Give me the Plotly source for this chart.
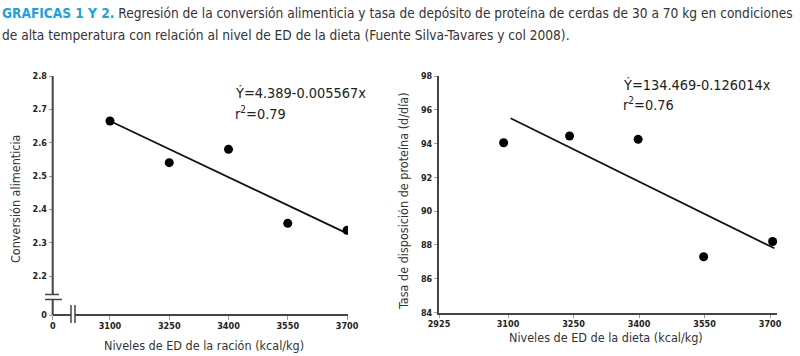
import plotly.graph_objects as go

W, H = 800, 356

# ---------------- data ----------------
ed_left = [3100, 3250, 3400, 3550, 3700]
conv_alim = [2.665, 2.54, 2.58, 2.358, 2.337]
fit_left_x = [3100, 3700]
fit_left_y = [2.665, 2.328]

ed_right = [3090, 3241, 3398, 3548, 3706]
tasa_prot = [94.05, 94.45, 94.25, 87.3, 88.2]
fit_right_x = [3106, 3710]
fit_right_y = [95.5, 87.8]

left_xticks = [3100, 3250, 3400, 3550, 3700]
left_yticks = [2.2, 2.3, 2.4, 2.5, 2.6, 2.7, 2.8]
right_xticks = [3100, 3250, 3400, 3550, 3700]
right_yticks = [84, 86, 88, 90, 92, 94, 96, 98]

eq_left = ["Ý=4.389-0.005567x", "r<sup>2</sup>=0.79"]
eq_right = ["Ý=134.469-0.126014x", "r<sup>2</sup>=0.76"]

NARROW = "DejaVu Sans Condensed, sans-serif"
AX = "#444444"


def px(x):
    return x / W


def py(y):
    return 1 - y / H


# axis ranges (break positions on left chart)
L_XR = [2955, 3702.5]
L_YR = [2.083, 2.8]
R_XR = [2942, 3716]
R_YR = [84, 98]

fig = go.Figure()

fig.add_trace(go.Scatter(x=fit_left_x, y=fit_left_y, mode="lines",
                         line=dict(color="#111111", width=1.8),
                         xaxis="x", yaxis="y", showlegend=False))
fig.add_trace(go.Scatter(x=ed_left, y=conv_alim, mode="markers",
                         marker=dict(color="black", size=9),
                         xaxis="x", yaxis="y", showlegend=False))
fig.add_trace(go.Scatter(x=fit_right_x, y=fit_right_y, mode="lines",
                         line=dict(color="#111111", width=1.8),
                         xaxis="x2", yaxis="y2", showlegend=False))
fig.add_trace(go.Scatter(x=ed_right, y=tasa_prot, mode="markers",
                         marker=dict(color="black", size=9),
                         xaxis="x2", yaxis="y2", showlegend=False))

tickfont = dict(family=NARROW, size=9, color="#222", weight="bold")
common = dict(ticks="outside", tickcolor="#999", tickwidth=1,
              showgrid=False, zeroline=False, automargin=False,
              tickfont=tickfont)

fig.update_layout(
    width=W, height=H,
    margin=dict(l=0, r=0, t=0, b=0),
    paper_bgcolor="white", plot_bgcolor="white",
    xaxis=dict(domain=[px(52.7), px(348)], range=L_XR,
               tickvals=[L_XR[0]] + left_xticks,
               ticktext=["0"] + [str(v) for v in left_xticks],
               ticklen=4, showline=False, anchor="y",
               ticklabelstandoff=-2, **common),
    yaxis=dict(domain=[py(315), py(76)], range=L_YR,
               tickvals=[L_YR[0]] + left_yticks,
               ticktext=["0"] + [f"{v:.1f}" for v in left_yticks],
               ticklen=3, showline=False, anchor="x", **common),
    xaxis2=dict(domain=[px(439), px(777)], range=R_XR,
                tickvals=[R_XR[0]] + right_xticks,
                ticktext=["2925"] + [str(v) for v in right_xticks],
                ticklen=3, showline=True, linecolor=AX, linewidth=2,
                anchor="y2", ticklabelstandoff=-1, **common),
    yaxis2=dict(domain=[py(312.5), py(76)], range=R_YR,
                tickvals=right_yticks,
                ticktext=[str(v) for v in right_yticks],
                ticklen=3, showline=True, linecolor=AX, linewidth=2,
                anchor="x2", **common),
)

# left chart axis lines with breaks
shapes = []


def seg(x0, y0, x1, y1, w=2, c=AX):
    shapes.append(dict(type="line", xref="paper", yref="paper",
                       x0=px(x0), y0=py(y0), x1=px(x1), y1=py(y1),
                       line=dict(color=c, width=w)))


seg(52.7, 76, 52.7, 294.5)
seg(52.7, 299.5, 52.7, 315)
seg(52.7, 315, 71, 315)
seg(75, 315, 348, 315)
# break marks
seg(45, 294.5, 59, 294.5, w=1.5)
seg(45, 299.5, 62, 299.5, w=1.5)
seg(71, 305, 71, 323, w=1.5)
seg(75, 305, 75, 323, w=1.5)

fig.update_layout(shapes=shapes)

ann = []


def note(text, x, y, font, xanchor="center", angle=0):
    ann.append(dict(text=text, x=px(x), y=py(y), xref="paper", yref="paper",
                    xanchor=xanchor, yanchor="middle", textangle=angle,
                    showarrow=False, font=font))


title1 = ("<span style='color:#1ba3da'><b>GRAFICAS 1 Y 2.</b></span> Regresión de la conversión alimenticia "
          "y tasa de depósito de proteína de cerdas de 30 a 70 kg en condiciones")
title2 = "de alta temperatura con relación al nivel de ED de la dieta (Fuente Silva-Tavares y col 2008)."
tfont = dict(family=NARROW, size=13.6, color="#333")
note(title1, 0, 13, tfont, xanchor="left")
note(title2, 0, 35, tfont, xanchor="left")

lab = dict(family=NARROW, size=12.5, color="#333")
note("Niveles de ED de la ración (kcal/kg)", 204, 345, lab)
note("Niveles de ED de la dieta (kcal/kg)", 606, 337, lab)
note("Conversión alimenticia", 15, 199, lab, angle=-90)
note("Tasa de disposición de proteína (d/día)", 403, 201, lab, angle=-90)

eqf = dict(family=NARROW, size=14.4, color="#222")
note(eq_left[0], 233, 93, eqf, xanchor="left")
note(eq_left[1], 233, 113, eqf, xanchor="left")
note(eq_right[0], 621, 85, eqf, xanchor="left")
note(eq_right[1], 621, 104, eqf, xanchor="left")
fig.update_layout(annotations=ann)

fig.write_html("out.html",
               config={"displayModeBar": False, "staticPlot": True},
               post_script="document.body.style.margin='0';document.body.style.overflow='hidden';")
